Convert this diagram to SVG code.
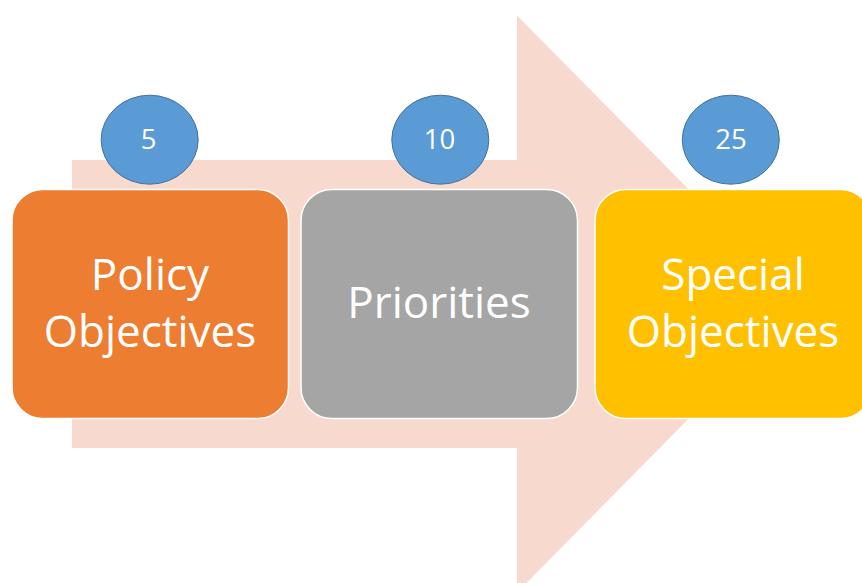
<svg xmlns="http://www.w3.org/2000/svg" width="862" height="583" viewBox="0 0 862 583">
<style>
.box{stroke:#ffffff;stroke-width:1.5}
.lbl{font-family:"Open Sans","Liberation Sans",sans-serif;font-size:44px;fill:#ffffff;text-anchor:middle}
.num{fill:#5B9BD5;stroke:#41719C;stroke-width:1}
.nt{font-family:"Open Sans","Liberation Sans",sans-serif;font-size:27.5px;fill:#ffffff;text-anchor:middle}
</style>
<rect width="862" height="583" fill="#ffffff"/>
<g id="arrow">
<polygon points="72,160 517,160 517,15.5 802,304 517,592.5 517,448 72,448" fill="#F7D9CE"/>
</g>
<g id="connectors"></g>
<g id="node-policy">
<rect class="box" x="12" y="189.5" width="276.5" height="229" rx="31" fill="#ED7D31"/>
<text class="lbl" x="150" y="290">Policy</text>
<text class="lbl" x="150" y="347">Objectives</text>
</g>
<g id="node-priorities">
<rect class="box" x="301" y="189.5" width="276.5" height="229" rx="31" fill="#A5A5A5"/>
<text class="lbl" x="439" y="318">Priorities</text>
</g>
<g id="node-special">
<rect class="box" x="595" y="189.5" width="276.5" height="229" rx="31" fill="#FFC000"/>
<text class="lbl" x="733" y="290">Special</text>
<text class="lbl" x="733" y="347">Objectives</text>
</g>
<g id="badge-5">
<ellipse class="num" cx="149.7" cy="139.7" rx="48.5" ry="44.5"/>
<text class="nt" x="148.5" y="149">5</text>
</g>
<g id="badge-10">
<ellipse class="num" cx="440.3" cy="139.7" rx="48.5" ry="44.5"/>
<text class="nt" x="439.5" y="149">10</text>
</g>
<g id="badge-25">
<ellipse class="num" cx="730.8" cy="139.7" rx="48.5" ry="44.5"/>
<text class="nt" x="731" y="149">25</text>
</g>
</svg>
